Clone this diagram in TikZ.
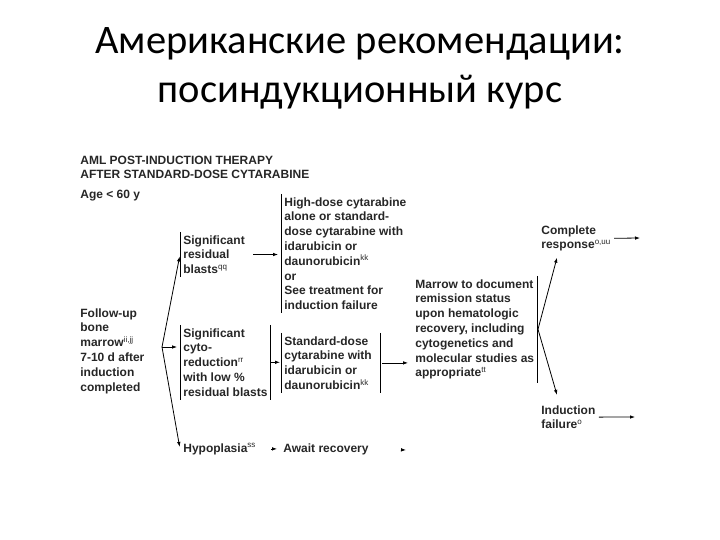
\documentclass[tikz,border=0pt]{standalone}
\usepackage{fontspec}
\setmainfont{Liberation Sans}
\newfontfamily\titlefont{Carlito}
\usetikzlibrary{arrows.meta, positioning, calc}

\tikzset{
  txt/.style={anchor=base west, align=left, inner xsep=3pt, inner ysep=3pt,
    font=\fontsize{12}{14.8}\selectfont\bfseries, text=black!85},
  bar/.style={line width=0.8pt}
}
\newcommand{\sups}[1]{\textsuperscript{\mdseries #1}}

\begin{document}
\begin{tikzpicture}[x=1pt, y=-1pt, >={Latex[length=5pt,width=3.6pt]}, line width=0.8pt]
\useasboundingbox (0,0) rectangle (720,540);
% title (placed by the baseline of its last line)
\node[font=\titlefont\fontsize{40.5}{49}\selectfont, align=center, anchor=base] (title) at (360,103)
  {Американские рекомендации:\\посиндукционный курс};
% header
\node[txt] (head) at (77,179) {AML POST-INDUCTION THERAPY\\AFTER STANDARD-DOSE CYTARABINE};
\node[txt] (age) at (77,199) {Age < 60 y};
% first column
\node[txt] (follow) at (77,391) {Follow-up\\bone\\marrow\sups{ii,jj}\\7-10 d after\\induction\\completed};
\node[txt] (resid) at (180,273.6) {Significant\\residual\\blasts\sups{qq}};
\node[txt] (cyto) at (180,396.2) {Significant\\cyto-\\reduction\sups{rr}\\with low \%\\residual blasts};
\node[txt] (hypo) at (180,452) {Hypoplasia\sups{ss}};
% second column
\node[txt] (high) at (281,309.6) {High-dose cytarabine\\alone or standard-\\dose cytarabine with\\idarubicin or\\daunorubicin\sups{kk}\\or\\See treatment for\\induction failure};
\node[txt] (std) at (281,389.4) {Standard-dose\\cytarabine with\\idarubicin or\\daunorubicin\sups{kk}};
\node[txt] (await) at (280,452) {Await recovery};
% third column
\node[txt] (marrow) at (412,376.8) {Marrow to document\\remission status\\upon hematologic\\recovery, including\\cytogenetics and\\molecular studies as\\appropriate\sups{tt}};
\node[txt] (complete) at (538,248.8) {Complete\\response\sups{o,uu}};
\node[txt] (failure) at (538,428.8) {Induction\\failure\sups{o}};

% bars beside the boxes
\coordinate (cytoR) at (270,0);
\coordinate (stdR) at (380,0);
\coordinate (marR) at (537,0);
\draw[bar] (resid.north west) -- (resid.south west);
\draw[bar] (cyto.north west) -- (cyto.south west);
\draw[bar] (cyto.north west -| cytoR) -- (cyto.south west -| cytoR);
\draw[bar] (high.north west) -- (high.south west);
\draw[bar] (std.north west) -- (std.south west);
\draw[bar] (std.north west -| stdR) -- (std.south west -| stdR);
\draw[bar] (marrow.north west -| marR) -- (marrow.south west -| marR);

% arrows
\coordinate (fork) at (162,347);
\coordinate (mfork) at ([xshift=1pt]marrow.east -| marR);
\coordinate (cend) at (640,238);
\coordinate (fend) at (635,417);
\coordinate (aend) at (406,450);
\draw[->, shorten >=2pt] (fork) -- (resid.west);
\draw[->, shorten >=3pt] (fork) -- (fork -| cyto.west);
\draw[->, shorten >=2pt] (fork) -- (hypo.west);
\draw[->, shorten <=5pt, shorten >=3pt] (resid.east) -- (resid.east -| high.west);
\draw[->, shorten <=1pt, shorten >=1pt] (cyto.east -| cytoR) -- (cyto.east -| std.west);
\draw[->, shorten <=2pt, shorten >=4pt] (std.east -| stdR) -- (std.east -| marrow.west);
\draw[->] (mfork) -- ([xshift=19pt, yshift=-3pt]complete.south west);
\draw[->] (mfork) -- ([xshift=19pt, yshift=7pt]failure.north west);
\draw[->] (complete.east) -- (cend);
\draw[->] (failure.east) -- (fend);
\draw[->, shorten <=12pt, shorten >=3pt] (hypo.east) -- (await.west);
\draw[->, shorten <=30pt] (await.east) -- (aend);
\end{tikzpicture}
\end{document}
